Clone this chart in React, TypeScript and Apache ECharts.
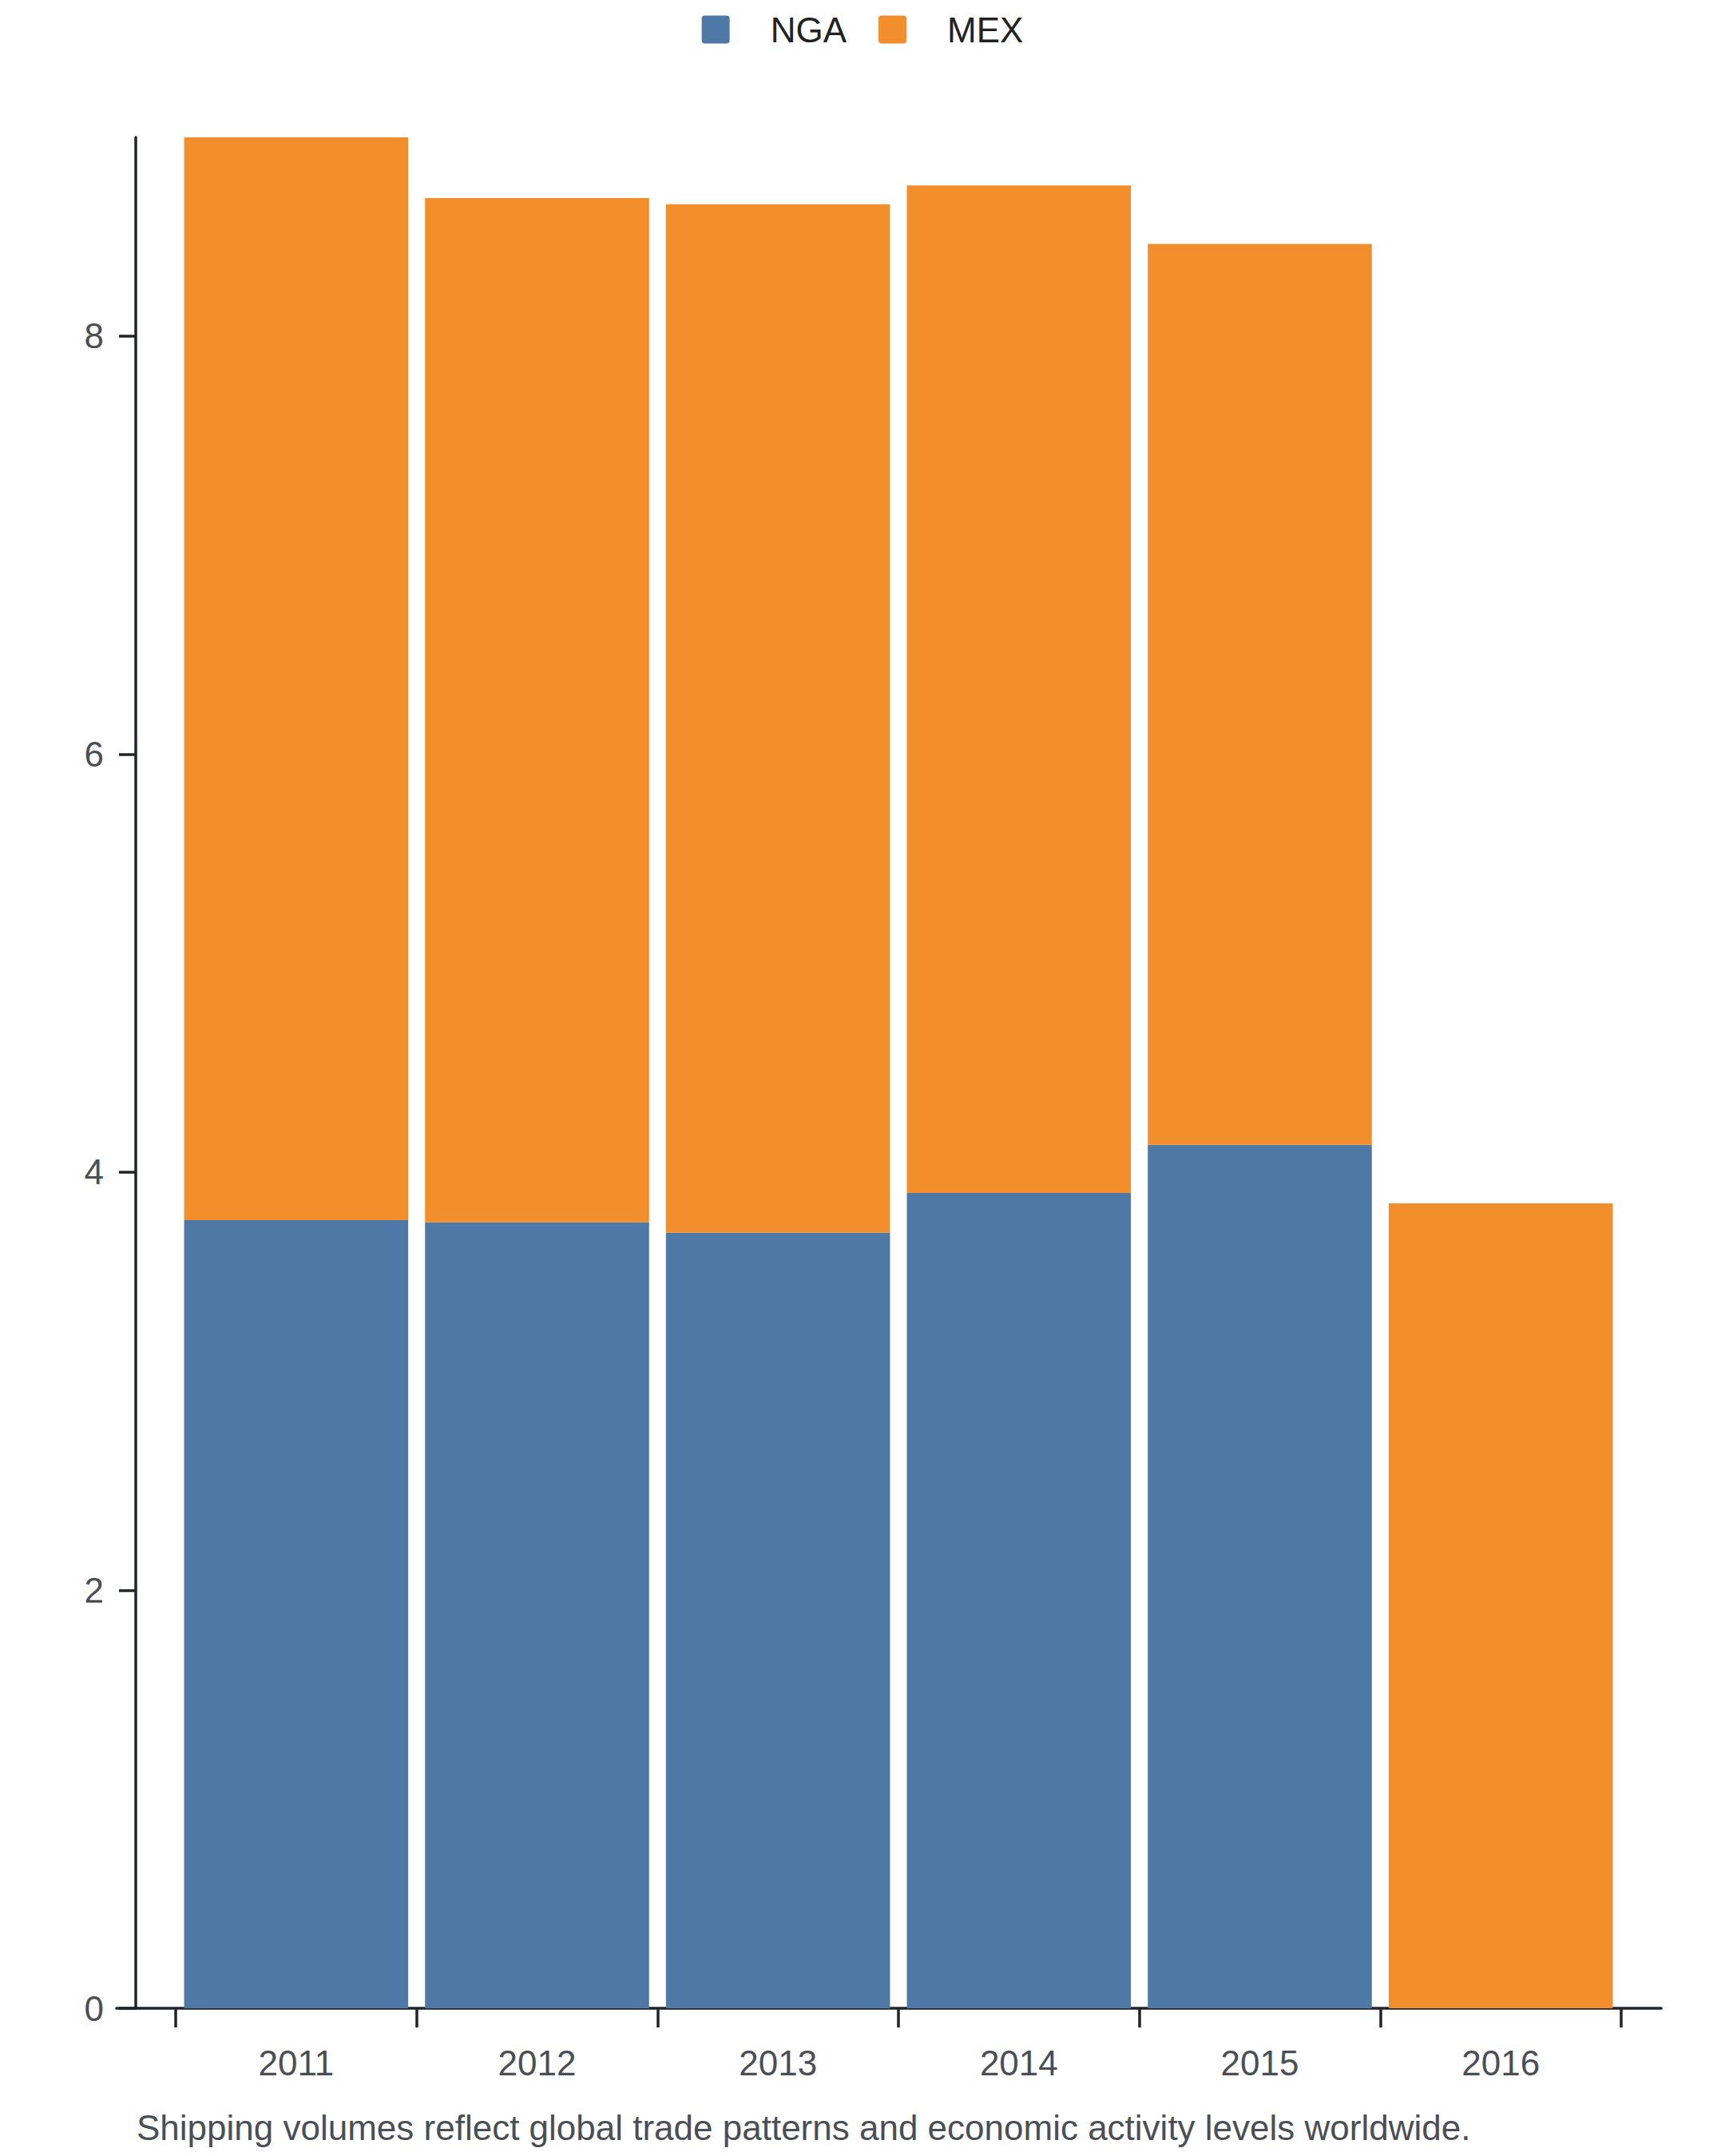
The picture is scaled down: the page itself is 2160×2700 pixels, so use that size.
import React, { useEffect, useRef } from "react";
import * as echarts from "echarts";

const years = ["2011", "2012", "2013", "2014", "2015", "2016"];
const ngaValues = [3.77, 3.76, 3.71, 3.9, 4.13, 0];
const mexValues = [5.18, 4.9, 4.92, 4.82, 4.31, 3.85];
const yTickValues = [0, 2, 4, 6, 8];
const seriesNames = ["NGA", "MEX"];
const caption =
  "Shipping volumes reflect global trade patterns and economic activity levels worldwide.";

const FONT = "'Liberation Sans', Arial, Helvetica, sans-serif";
const AXIS_COLOR = "#212529";
const LABEL_COLOR = "#4a4f56";
const LEGEND_ICON =
  "path://M4,0 H31 A4,4 0 0 1 35,4 V31 A4,4 0 0 1 31,35 H4 A4,4 0 0 1 0,31 V4 A4,4 0 0 1 4,0 Z";

export default function App() {
  const ref = useRef<HTMLDivElement>(null);

  useEffect(() => {
    document.body.style.margin = "0";
    if (!ref.current) return;
    const chart = echarts.init(ref.current, null, { renderer: "svg" });
    const option: any = {
      animation: false,
      backgroundColor: "#ffffff",
      textStyle: { fontFamily: FONT },
      color: ["#4e79a7", "#f28e2b"],
      legend: {
        data: seriesNames,
        top: 10,
        left: "center",
        icon: LEGEND_ICON,
        itemWidth: 35,
        itemHeight: 35,
        itemGap: 40,
        textStyle: {
          fontFamily: FONT,
          fontSize: 44,
          color: "#222222",
          padding: [0, 0, 0, 46],
        },
      },
      grid: [
        { left: 220, right: 130, top: 172, bottom: 185, outerBoundsMode: "none", containLabel: false },
        { left: 146, right: 80, top: 172, bottom: 185, outerBoundsMode: "none", containLabel: false },
      ],
      xAxis: [
        {
          type: "category",
          gridIndex: 0,
          data: years,
          boundaryGap: true,
          axisLine: { show: false },
          axisTick: {
            show: true,
            length: 24,
            alignWithLabel: false,
            lineStyle: { color: AXIS_COLOR, width: 3.5 },
          },
          axisLabel: {
            margin: 46,
            fontSize: 44,
            fontFamily: FONT,
            color: LABEL_COLOR,
          },
          splitLine: { show: false },
        },
        {
          type: "value",
          gridIndex: 1,
          min: 0,
          max: 1,
          axisLine: { show: true, onZero: false, lineStyle: { color: AXIS_COLOR, width: 3.7 } },
          axisTick: { show: false },
          axisLabel: { show: false },
          splitLine: { show: false },
        },
      ],
      yAxis: [
        {
          type: "value",
          gridIndex: 0,
          min: 0,
          max: "dataMax",
          interval: 2,
          offset: 50,
          axisLine: { show: true, lineStyle: { color: AXIS_COLOR, width: 3.5 } },
          axisTick: {
            show: true,
            length: 21,
            customValues: yTickValues,
            lineStyle: { color: AXIS_COLOR, width: 3.5 },
          },
          axisLabel: {
            margin: 40,
            fontSize: 44,
            fontFamily: FONT,
            color: LABEL_COLOR,
            customValues: yTickValues,
          },
          splitLine: { show: false },
        },
        {
          type: "value",
          gridIndex: 1,
          show: false,
          min: 0,
          max: 1,
        },
      ],
      series: [
        {
          name: seriesNames[0],
          type: "bar",
          stack: "total",
          xAxisIndex: 0,
          yAxisIndex: 0,
          data: ngaValues,
          barCategoryGap: "7%",
          itemStyle: { color: "#4e79a7" },
        },
        {
          name: seriesNames[1],
          type: "bar",
          stack: "total",
          xAxisIndex: 0,
          yAxisIndex: 0,
          data: mexValues,
          barCategoryGap: "7%",
          itemStyle: { color: "#f28e2b" },
        },
      ],
      graphic: [
        {
          type: "text",
          left: 171,
          top: 2642,
          style: {
            text: caption,
            font: `44px ${FONT}`,
            fill: LABEL_COLOR,
          },
        },
      ],
    };
    chart.setOption(option);
    return () => chart.dispose();
  }, []);

  return <div ref={ref} style={{ width: 2160, height: 2700 }} />;
}
